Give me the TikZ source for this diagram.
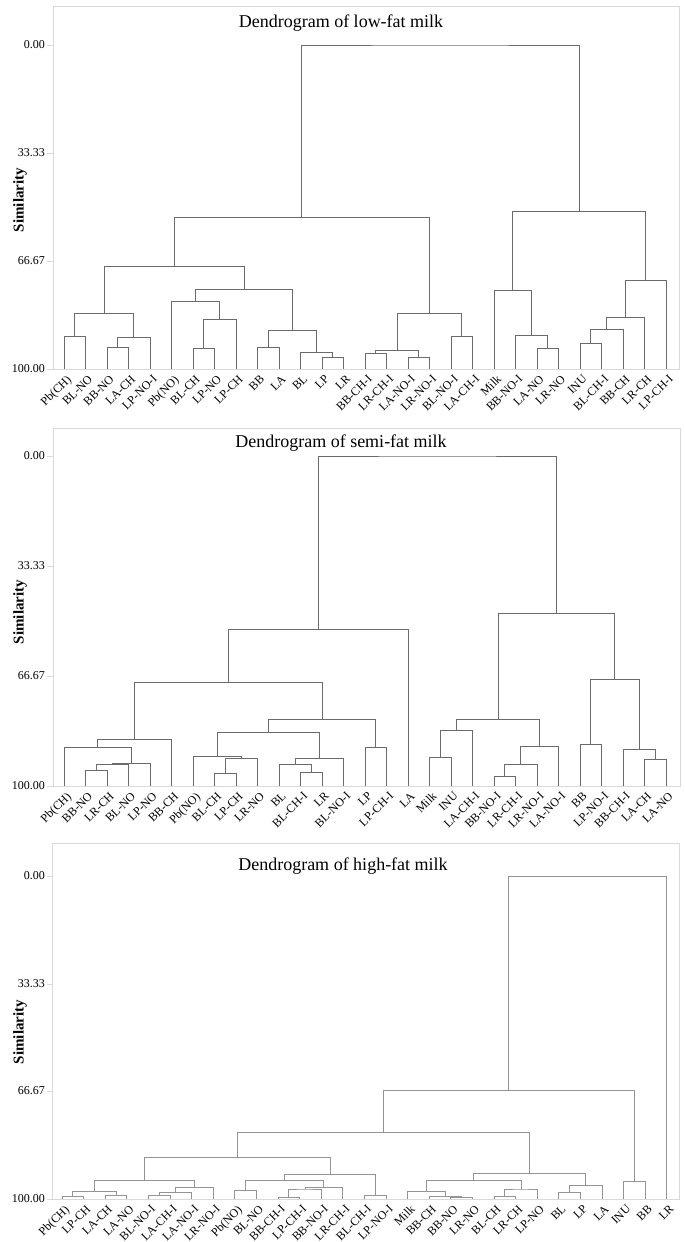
\documentclass[tikz,border=0pt]{standalone}
\usepackage{fontspec}
\setmainfont{Liberation Serif}
\usepackage{tikz}

\definecolor{linkgray}{gray}{0.42}
\definecolor{palelink}{gray}{0.58}
\definecolor{framegray}{gray}{0.85}

\tikzset{
  link/.style={draw=linkgray, line width=0.9pt},
  palelinks/.style={link/.append style={draw=palelink}},
  framebox/.style={draw=framegray, line width=0.8pt},
  leaflabel/.style={anchor=north east, xshift=2pt, yshift=-5pt, rotate=45, inner sep=0pt, font=\fontsize{12}{12}\selectfont},
  ticklabel/.style={anchor=east, inner sep=1pt, font=\fontsize{12}{12}\selectfont},
  titlelabel/.style={font=\fontsize{18}{18}\selectfont},
  axislabel/.style={rotate=90, font=\fontsize{15}{15}\selectfont\bfseries},
}

\begin{document}
\begin{tikzpicture}[x=1pt, y=-1pt]
\useasboundingbox (0,0) rectangle (685,1242);

% frames, axes and titles
\draw[framebox] (53,6) rectangle (679,369);
\draw[framebox] (53,428) rectangle (680,786);
\draw[framebox] (52,843) rectangle (679,1199);
\foreach \yy/\lbl [count=\k] in {45/0.00, 153/33.33, 261/66.67, 369/100.00,
    456/0.00, 566/33.33, 676/66.67, 786/100.00,
    876/0.00, 984/33.33, 1091/66.67, 1199/100.00} {
  \draw[framebox] (47,\yy) -- (53,\yy);
  \node[ticklabel] (tick\k) at (46,\yy) {\lbl};
}
\node[titlelabel] (title1) at (341,23) {Dendrogram of low-fat milk};
\node[titlelabel] (title2) at (341,443) {Dendrogram of semi-fat milk};
\node[titlelabel] (title3) at (343,866) {Dendrogram of high-fat milk};
\node[axislabel] (sim1) at (20,200) {Similarity};
\node[axislabel] (sim2) at (20,612) {Similarity};
\node[axislabel] (sim3) at (20,1032) {Similarity};

% low-fat milk
\begin{scope}[xshift=42.5pt, yshift=-45pt, x=21.5pt, y=-3.24pt]
\foreach \name [count=\i] in {Pb(CH), BL-NO, BB-NO, LA-CH, LP-NO-I, Pb(NO), BL-CH,
    LP-NO, LP-CH, BB, LA, BL, LP, LR, BB-CH-I, LR-CH-I, LA-NO-I, LR-NO-I, BL-NO-I,
    LA-CH-I, Milk, BB-NO-I, LA-NO, LR-NO, INU, BL-CH-I, BB-CH, LR-CH, LP-CH-I} {
  \coordinate (a\i) at (\i,100);
  \node[leaflabel] (la\i) at (a\i) {\name};
}
\foreach \m/\ka/\kb/\mx/\lvl in {30/1/2/1.5/90.1, 31/3/4/3.5/93.5, 32/31/5/4.25/90.4,
    33/30/32/2.875/82.7, 34/7/8/7.5/93.8, 35/34/9/8.25/84.6, 36/6/35/7.125/79.3,
    37/10/11/10.5/93.5, 38/13/14/13.5/96.3, 39/12/38/12.75/94.8, 40/37/39/11.625/88.0,
    41/36/40/9.375/75.3, 42/33/41/6.125/68.2, 43/15/16/15.5/95.1, 44/17/18/17.5/96.3,
    45/43/44/16.5/94.4, 46/19/20/19.5/90.1, 47/45/46/18/83.0, 48/42/47/12.0625/53.1,
    49/23/24/23.5/93.8, 50/22/49/22.75/89.5, 51/21/50/21.875/75.9, 52/25/26/25.5/92.0,
    53/52/27/26.25/87.7, 54/53/28/27.125/84.0, 55/54/29/28.0625/72.8,
    56/51/55/24.96875/51.5, 57/48/56/18.515625/0} {
  \coordinate (a\m) at (\mx,\lvl);
  \draw[link] (a\ka) |- (a\m) -| (a\kb);
}
\end{scope}

% semi-fat milk
\begin{scope}[xshift=42.5pt, yshift=-456pt, x=21.5pt, y=-3.30pt]
\foreach \name [count=\i] in {Pb(CH), BB-NO, LR-CH, BL-NO, LP-NO, BB-CH, Pb(NO),
    BL-CH, LP-CH, LR-NO, BL, BL-CH-I, LR, BL-NO-I, LP, LP-CH-I, LA, Milk, INU,
    LA-CH-I, BB-NO-I, LR-CH-I, LR-NO-I, LA-NO-I, BB, LP-NO-I, BB-CH-I, LA-CH, LA-NO} {
  \coordinate (b\i) at (\i,100);
  \node[leaflabel] (lb\i) at (b\i) {\name};
}
\foreach \m/\ka/\kb/\mx/\lvl in {30/2/3/2.5/95.2, 31/30/4/3.25/93.6, 32/31/5/4.125/93.3,
    33/1/32/2.5625/88.2, 34/33/6/4.28125/85.8, 35/8/9/8.5/96.1, 36/35/10/9.25/91.5,
    37/7/36/8.125/90.9, 38/12/13/12.5/95.8, 39/11/38/11.75/93.6, 40/39/14/12.875/91.8,
    41/37/40/10.5/83.9, 42/15/16/15.5/88.2, 43/41/42/13/79.7, 44/34/43/8.640625/68.5,
    45/44/17/12.8203125/52.7, 46/18/19/18.5/91.2, 47/46/20/19.25/83.3,
    48/21/22/21.5/97.0, 49/48/23/22.25/93.6, 50/49/24/23.125/87.9,
    51/47/50/21.1875/79.7, 52/25/26/25.5/87.3, 53/28/29/28.5/92.1,
    54/27/53/27.75/88.8, 55/52/54/26.625/67.6, 56/51/55/23.90625/47.6,
    57/45/56/18.36328125/0} {
  \coordinate (b\m) at (\mx,\lvl);
  \draw[link] (b\ka) |- (b\m) -| (b\kb);
}
\end{scope}

% high-fat milk
\begin{scope}[xshift=40.4pt, yshift=-876pt, x=21.6pt, y=-3.23pt, palelinks]
\foreach \name [count=\i] in {Pb(CH), LP-CH, LA-CH, LA-NO, BL-NO-I, LA-CH-I, LA-NO-I,
    LR-NO-I, Pb(NO), BL-NO, BB-CH-I, LP-CH-I, BB-NO-I, LR-CH-I, BL-CH-I, LP-NO-I,
    Milk, BB-CH, BB-NO, LR-NO, BL-CH, LR-CH, LP-NO, BL, LP, LA, INU, BB, LR} {
  \coordinate (c\i) at (\i,100);
  \node[leaflabel] (lc\i) at (c\i) {\name};
}
\foreach \m/\ka/\kb/\mx/\lvl in {30/1/2/1.5/99.1, 31/3/4/3.5/98.8, 32/30/31/2.5/97.8,
    33/5/6/5.5/98.8, 34/33/7/6.25/98.1, 35/34/8/7.125/96.3, 36/32/35/4.8125/94.1,
    37/9/10/9.5/97.5, 38/11/12/11.5/99.4, 39/38/13/12.25/96.9, 40/39/14/13.125/96.3,
    41/37/40/11.3125/94.4, 42/15/16/15.5/98.8, 43/41/42/13.40625/92.3,
    44/36/43/9.109375/87.0, 45/19/20/19.5/99.4, 46/18/45/18.75/99.1,
    47/17/46/17.875/97.8, 48/21/22/21.5/99.1, 49/48/23/22.25/96.9,
    50/47/49/20.0625/94.1, 51/24/25/24.5/98.1, 52/51/26/25.25/95.7,
    53/50/52/22.65625/92.0, 54/44/53/15.8828125/79.3, 55/27/28/27.5/94.7,
    56/54/55/21.69140625/66.3, 57/56/29/25.345703125/0} {
  \coordinate (c\m) at (\mx,\lvl);
  \draw[link] (c\ka) |- (c\m) -| (c\kb);
}
\end{scope}
\end{tikzpicture}
\end{document}
